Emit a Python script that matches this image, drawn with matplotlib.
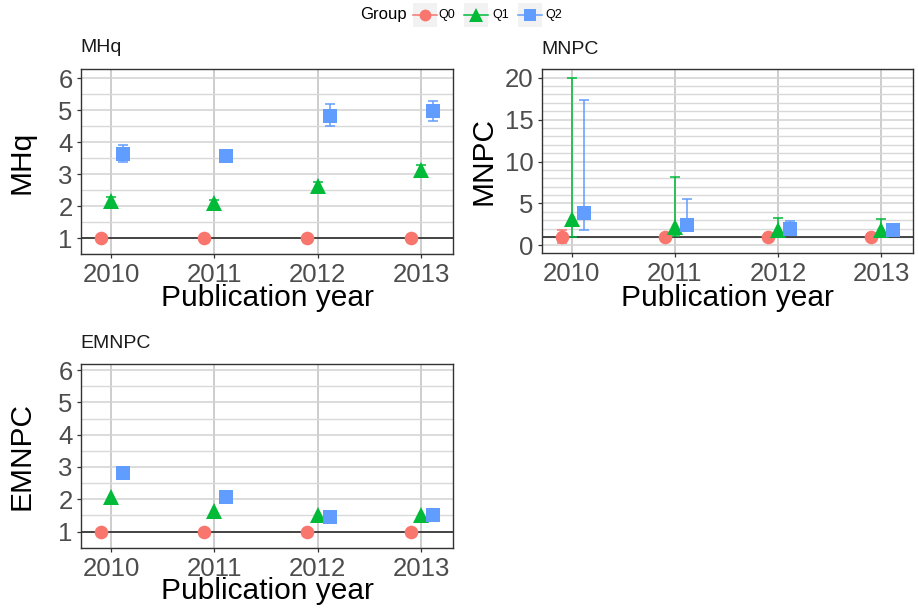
import matplotlib
matplotlib.use("Agg")
import matplotlib.pyplot as plt
from matplotlib.lines import Line2D
from matplotlib.patches import Rectangle
from matplotlib.ticker import MultipleLocator, FixedLocator

plt.rcParams['font.family'] = ['Liberation Sans', 'DejaVu Sans']

# ---- data -------------------------------------------------------------
years = [2010, 2011, 2012, 2013]
groups = ["Q0", "Q1", "Q2"]

# MHq
mhq_q0 = [1.0, 1.0, 1.0, 1.0]
mhq_q0_lo = [1.0, 1.0, 1.0, 1.0]
mhq_q0_hi = [1.0, 1.0, 1.0, 1.0]
mhq_q1 = [2.18, 2.09, 2.64, 3.13]
mhq_q1_lo = [2.08, 2.00, 2.55, 2.97]
mhq_q1_hi = [2.30, 2.20, 2.76, 3.30]
mhq_q2 = [3.63, 3.57, 4.82, 4.98]
mhq_q2_lo = [3.37, 3.45, 4.51, 4.67]
mhq_q2_hi = [3.92, 3.68, 5.19, 5.29]

# MNPC
mnpc_q0 = [1.0, 1.0, 1.0, 1.0]
mnpc_q0_lo = [0.25, 1.0, 1.0, 1.0]
mnpc_q0_hi = [1.80, 1.0, 1.0, 1.0]
mnpc_q1 = [3.20, 2.20, 1.80, 1.80]
mnpc_q1_lo = [1.02, 1.10, 1.20, 1.20]
mnpc_q1_hi = [20.0, 8.10, 3.30, 3.10]
mnpc_q2 = [3.90, 2.40, 1.90, 1.85]
mnpc_q2_lo = [1.82, 1.70, 1.50, 1.50]
mnpc_q2_hi = [17.3, 5.50, 2.90, 2.30]

# EMNPC
emnpc_q0 = [1.0, 1.0, 1.0, 1.0]
emnpc_q1 = [2.08, 1.64, 1.52, 1.52]
emnpc_q2 = [2.81, 2.06, 1.46, 1.52]

# ---- styling ----------------------------------------------------------
colors = {"Q0": "#F8766D", "Q1": "#00BA38", "Q2": "#619CFF"}
markers = {"Q0": "o", "Q1": "^", "Q2": "s"}
msizes = {"Q0": 9.8, "Q1": 11.5, "Q2": 9.6}
dodge = {"Q0": -0.10, "Q1": 0.0, "Q2": 0.115}

W, H = 918, 614
fig = plt.figure(figsize=(W / 100, H / 100), dpi=100)


def px_axes(left, top, right, bottom):
    return fig.add_axes([left / W, 1 - bottom / H, (right - left) / W, (bottom - top) / H])


def style_axes(ax, ylim, major, minor):
    ax.set_xlim(2009.71, 2013.31)
    ax.set_ylim(*ylim)
    ax.xaxis.set_major_locator(FixedLocator(years))
    ax.yaxis.set_major_locator(MultipleLocator(major))
    ax.yaxis.set_minor_locator(MultipleLocator(minor))
    ax.grid(True, axis="x", which="major", color="#cdcdcd", lw=1.4, zorder=0)
    ax.grid(True, axis="y", which="major", color="#d2d2d2", lw=1.1, zorder=0)
    ax.grid(True, axis="y", which="minor", color="#d9d9d9", lw=1.0, zorder=0)
    ax.set_axisbelow(True)
    for s in ax.spines.values():
        s.set_color("#333333")
        s.set_linewidth(1.0)
    ax.tick_params(axis="both", which="major", length=3, width=0.9, color="#333333",
                   labelsize=18.5, labelcolor="#4d4d4d")
    ax.tick_params(axis="x", pad=3.4)
    ax.tick_params(axis="y", pad=3.0)
    ax.tick_params(axis="y", which="minor", length=0)
    ax.axhline(1, color="#1a1a1a", lw=1.1, zorder=1)


def draw_group(ax, g, vals, lo=None, hi=None):
    xs = [y + dodge[g] for y in years]
    if lo is not None and hi is not None:
        yerr = [[v - l for v, l in zip(vals, lo)], [h - v for v, h in zip(vals, hi)]]
        ax.errorbar(xs, vals, yerr=yerr, fmt="none", ecolor=colors[g], elinewidth=1.1,
                    capsize=3.6, capthick=1.1, zorder=2)
    ax.plot(xs, vals, linestyle="none", marker=markers[g], ms=msizes[g],
            color=colors[g], markeredgewidth=0, zorder=3)


# Panel MHq
ax1 = px_axes(81, 69.3, 453, 254.3)
style_axes(ax1, (0.5, 6.28), 1, 0.5)
draw_group(ax1, "Q0", mhq_q0, mhq_q0_lo, mhq_q0_hi)
draw_group(ax1, "Q1", mhq_q1, mhq_q1_lo, mhq_q1_hi)
draw_group(ax1, "Q2", mhq_q2, mhq_q2_lo, mhq_q2_hi)

# Panel MNPC
ax2 = px_axes(542, 69.3, 913, 253.3)
style_axes(ax2, (-0.95, 21.0), 5, 1)
draw_group(ax2, "Q0", mnpc_q0, mnpc_q0_lo, mnpc_q0_hi)
draw_group(ax2, "Q1", mnpc_q1, mnpc_q1_lo, mnpc_q1_hi)
draw_group(ax2, "Q2", mnpc_q2, mnpc_q2_lo, mnpc_q2_hi)

# Panel EMNPC
ax3 = px_axes(81, 364, 453, 547.7)
style_axes(ax3, (0.5, 6.19), 1, 0.5)
draw_group(ax3, "Q0", emnpc_q0)
draw_group(ax3, "Q1", emnpc_q1)
draw_group(ax3, "Q2", emnpc_q2)

# Panel titles, axis titles
titles = [("MHq", 80, 48), ("MNPC", 541.5, 50), ("EMNPC", 80.5, 344)]
for t, x, y in titles:
    fig.text(x / W, 1 - y / H, t, fontsize=14, ha="left", va="center", color="#1a1a1a")

ylabels = [("MHq", 22, 162), ("MNPC", 483, 161), ("EMNPC", 22, 456)]
for t, x, y in ylabels:
    fig.text(x / W, 1 - y / H, t, fontsize=21.5, rotation=90, ha="center", va="center")

xlabels = [(267, 305.5), (727.5, 305.5), (267, 599)]
for x, y in xlabels:
    fig.text(x / W, 1 - y / H, "Publication year", fontsize=21.5, ha="center", va="baseline")

# Legend
fig.text(360 / W, 1 - 15 / H, "Group", fontsize=12, ha="left", va="center")
key_specs = [("Q0", 425, 438), ("Q1", 476, 492), ("Q2", 530, 545)]
leg_ms = {"Q0": 8.5, "Q1": 10.0, "Q2": 8.5}
for g, cx, tx in key_specs:
    fig.patches.append(Rectangle(((cx - 12) / W, 1 - 27 / H), 24 / W, 24 / H,
                                 transform=fig.transFigure, facecolor="#f2f2f2",
                                 edgecolor="none"))
    fig.add_artist(Line2D([(cx - 12) / W, (cx + 12) / W], [1 - 15 / H, 1 - 15 / H],
                          transform=fig.transFigure, color=colors[g], lw=1.1))
    fig.add_artist(Line2D([cx / W], [1 - 15 / H], transform=fig.transFigure,
                          marker=markers[g], ms=leg_ms[g], color=colors[g],
                          markeredgewidth=0, linestyle="none"))
    fig.text(tx / W, 1 - 15 / H, g, fontsize=9, ha="left", va="center")

fig.savefig("out.png", dpi=100)
